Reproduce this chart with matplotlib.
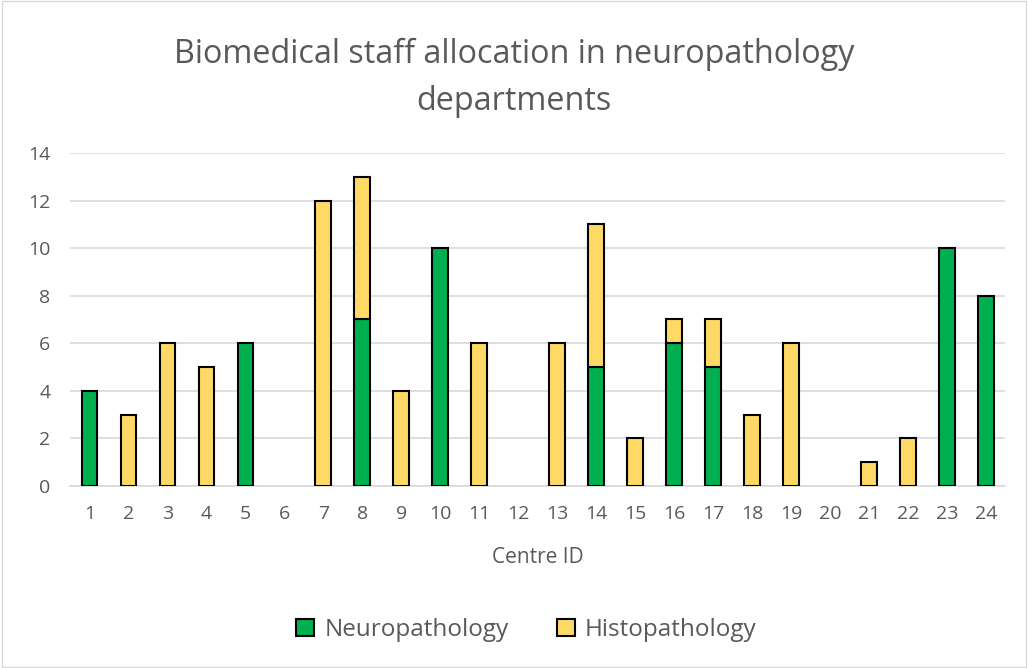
import numpy as np
import matplotlib.pyplot as plt
from matplotlib.patches import Rectangle

# Data
centres = [str(i) for i in range(1, 25)]
neuro = [4, 0, 0, 0, 6, 0, 0, 7, 0, 10, 0, 0, 0, 5, 0, 6, 5, 0, 0, 0, 0, 0, 10, 8]
histo = [0, 3, 6, 5, 0, 0, 12, 6, 4, 0, 6, 0, 6, 6, 2, 1, 2, 3, 6, 0, 1, 2, 0, 0]

plt.rcParams['font.family'] = ['Open Sans', 'DejaVu Sans']
grey = '#595959'

fig = plt.figure(figsize=(10.28, 6.68), dpi=100)
ax = fig.add_axes([0.068, 0.2725, 0.91, 0.4985])

x = np.arange(len(centres))
neuro = np.array(neuro)
histo = np.array(histo)
# skip zero-height segments so no stray outline is drawn
mn = neuro > 0
mh = histo > 0
ax.bar(x[mn], neuro[mn], width=0.4, color='#00B050', edgecolor='black', linewidth=1.5,
       label='Neuropathology', zorder=3)
ax.bar(x[mh], histo[mh], width=0.4, bottom=neuro[mh], color='#FFD966', edgecolor='black',
       linewidth=1.5, label='Histopathology', zorder=3)

ax.set_xlim(-0.5, len(centres) - 0.5)
ax.set_ylim(0, 14)
ax.set_yticks(range(0, 15, 2))
ax.set_xticks(x)
ax.set_xticklabels(centres)
ax.grid(axis='y', color='#D9D9D9', linewidth=1.2, zorder=0)
for s in ['top', 'right', 'left']:
    ax.spines[s].set_visible(False)
ax.spines['bottom'].set_color('#D9D9D9')
ax.spines['bottom'].set_linewidth(1.2)
ax.tick_params(axis='both', length=0, colors=grey, labelsize=14)
ax.tick_params(axis='x', pad=14)
ax.tick_params(axis='y', pad=14)
ax.set_xlabel('Centre ID', color=grey, fontsize=15, labelpad=17)

fig.suptitle('Biomedical staff allocation in neuropathology\ndepartments',
             color=grey, fontsize=23.3, y=0.943, linespacing=1.55)

ax.legend(loc='center', bbox_to_anchor=(0.512, 0.057), bbox_transform=fig.transFigure,
          ncol=2, frameon=False, fontsize=17.5, labelcolor=grey, handlelength=0.75,
          handleheight=0.75, columnspacing=2.0, handletextpad=0.4)

fig.patches.append(Rectangle((0.002, 0.002), 0.996, 0.996, transform=fig.transFigure,
                             fill=False, edgecolor='#D9D9D9', linewidth=1))

fig.savefig('out.png', dpi=100)
